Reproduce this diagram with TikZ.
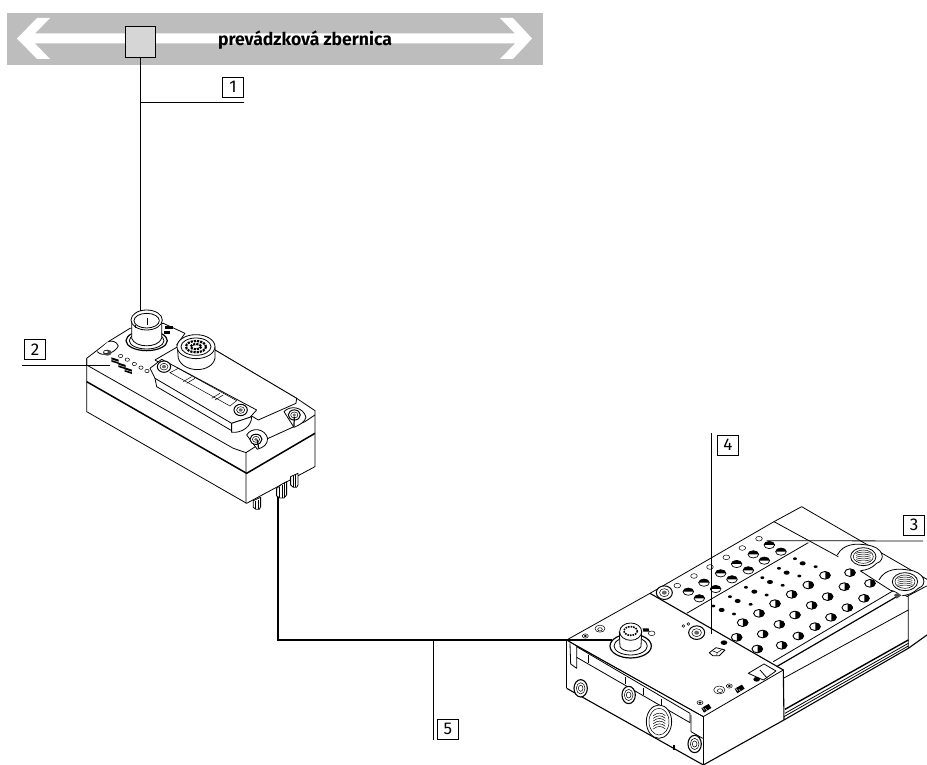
\documentclass[tikz,border=0pt]{standalone}
\usepackage{fontspec}
\setmainfont{Fira Sans}
\begin{document}
\begin{tikzpicture}[x=1pt,y=-1pt,
  num/.style={draw=black,line width=0.6pt,minimum width=21pt,minimum height=20pt,inner sep=0pt,font=\fontsize{17}{17}\selectfont},
  lead/.style={line width=0.8pt},
  dev/.style={line width=0.8pt,line join=round},
  thin3/.style={line width=0.5pt},
  heavy/.style={line width=1.5pt},
  zoomtwo/.style={shift={(20,270)},x=0.3333pt,y=-0.3333pt},
  zoomthree/.style={shift={(560,500)},x=0.3333pt,y=-0.3333pt}]
\newcommand{\halfhole}[3]{\draw[line width=0.7pt,fill=white] (#1,#2) circle[x radius=#3,y radius=0.68*#3];
  \fill[black] (#1-#3,#2) arc[start angle=180,end angle=360,x radius=#3,y radius=0.68*#3] -- cycle;}
\newcommand{\sidehole}[3]{\draw[line width=0.9pt,fill=white] (#1,#2) circle[x radius=#3,y radius=0.72*#3];
  \fill[black] (#1+1,#2+0.72*#3) arc[start angle=90,end angle=-90,x radius=#3,y radius=0.72*#3] -- cycle;}
\newcommand{\openhole}[3]{\draw[thin3,fill=white] (#1,#2) circle[x radius=#3,y radius=0.7*#3];}
\newcommand{\dothole}[3]{\fill[black] (#1,#2) circle[x radius=#3,y radius=0.7*#3];}
\newcommand{\screw}[3]{\draw[line width=1pt,fill=white] (#1,#2) circle[x radius=#3,y radius=0.85*#3];
  \draw[thin3] (#1,#2) circle[x radius=0.6*#3,y radius=0.5*#3];
  \fill[black!60] (#1,#2) circle[x radius=0.3*#3,y radius=0.25*#3];}
\newcommand{\glyphblock}[2]{\fill[black] (#1-11,#2-10) -- (#1+11,#2-3) -- (#1+11,#2+10) -- (#1-11,#2+3) -- cycle;
  \draw[white,line width=0.4pt] (#1-11,#2-3) -- (#1+11,#2+4);}
\useasboundingbox (0,0) rectangle (927,765);
\fill[white] (0,0) rectangle (927,765);
% bus
\fill[black!26] (7,13) rectangle (543,65);
\fill[white] (17,38.5) -- (37,18) -- (50,18) -- (35,33.5) -- (515,33.5) -- (500,18) -- (513,18) -- (532,38.5) -- (513,59) -- (500,59) -- (515,43.5) -- (35,43.5) -- (50,59) -- (37,59) -- cycle;
\node[draw=black,line width=0.9pt,fill=black!16,minimum width=30pt,minimum height=31pt,inner sep=0pt] (sq) at (140.5,42) {};
\node[font=\fontsize{17.6}{18}\bfseries\selectfont,inner sep=0pt] (bus) at (305,40) {prevádzková zbernica};
% labels
\node[num] (n1) at (233,87) {1};
\node[num] (n2) at (35,349.5) {2};
\node[num] (n3) at (914,525) {3};
\node[num] (n4) at (728,445) {4};
\node[num] (n5) at (448,729) {5};
% left device
\begin{scope}[zoomtwo]
\draw[dev,fill=white] (200,265) -- (265,215) -- (330,175) -- (430,160) -- (495,190) -- (470,225) -- (585,240) -- (830,385) -- (885,422) -- (885,590) -- (680,700) -- (200,425) -- cycle;
\draw[dev] (200,265) -- (200,285) -- (640,535) -- (678,548) -- (678,700);
\draw[dev] (678,548) -- (745,505) -- (855,455) -- (885,435);
\draw[heavy] (200,335) -- (680,610) -- (885,490);
% left notch
\draw[dev,fill=white] (232,245) .. controls (245,262) and (285,250) .. (295,228) .. controls (290,212) and (272,212) .. (265,215);
\fill[black!70] (262,248) circle[x radius=13,y radius=9];
\draw[thin3,fill=white] (258,246) circle[x radius=7,y radius=5];
% plate
\draw[dev,fill=white] (405,270) -- (470,232) -- (585,240) -- (830,385) -- (828,400) -- (715,450) -- (695,438) -- cycle;
\draw[dev,fill=white] (390,295) -- (425,268) -- (710,420) -- (690,442) -- (635,460) -- (405,325) -- cycle;
\draw[dev] (405,325) -- (410,350) -- (635,482) -- (635,460);
\draw[dev,fill=white] (635,460) -- (635,487) .. controls (665,490) and (695,470) .. (695,440) -- (690,442) -- cycle;
\draw[thin3] (450,308) -- (475,295) -- (650,392) -- (630,408) -- cycle;
\foreach \a/\b in {490/335,500/340,575/385,585/390}{\draw[thin3] (\a,\b) -- (\a+25,\b-15);}
\screw{432}{290}{20}
\screw{662}{420}{20}
% screws right
\draw[dev,fill=white] (680,495) .. controls (695,470) and (735,475) .. (743,505) .. controls (743,525) and (730,532) .. (712,538) -- cycle;
\screw{708}{508}{18}
\draw[line width=1.2pt] (712,510) -- (716,535);
\draw[dev,fill=white] (792,425) .. controls (810,405) and (850,410) .. (858,442) .. controls (855,455) and (840,465) .. (822,472) -- cycle;
\screw{823}{435}{18}
\draw[line width=1.2pt] (823,440) -- (822,470);
% connector front
\draw[line width=1.2pt,fill=white] (380,212) circle[x radius=62,y radius=30];
\draw[dev,fill=white] (380,212) circle[x radius=52,y radius=25];
\draw[dev,fill=white] (335,150) -- (335,205) .. controls (345,235) and (415,235) .. (425,205) -- (425,150) -- cycle;
\draw[dev,fill=white] (380,150) circle[x radius=47,y radius=30];
\draw[dev] (380,152) circle[x radius=38,y radius=22];
\draw[dev] (381,145) -- (381,165);
\draw[dev] (345,165) -- (345,175);
% small mark behind connector
\fill[black] (436,168) rectangle (458,176);
\fill[black] (432,184) rectangle (450,192);
% connector back
\draw[dev,fill=white] (472,230) -- (475,265) .. controls (490,310) and (575,310) .. (585,265) -- (585,230) -- cycle;
\draw[dev,fill=white] (528,230) circle[x radius=57,y radius=36];
\draw[dev] (528,230) circle[x radius=45,y radius=26];
\draw[line width=2.2pt,densely dotted] (528,230) circle[x radius=30,y radius=17];
\draw[line width=2.2pt,densely dotted] (528,230) circle[x radius=16,y radius=8];
% leds
\foreach \a/\b in {302/258,322/269,343/282,363/293,381/303}{\draw[thin3,fill=white] (\a,\b) circle[x radius=6.5,y radius=5];}
\glyphblock{285}{272}\glyphblock{306}{288}\glyphblock{325}{302}
% pins
\draw[dev,fill=white] (700,692) -- (700,712) -- (708,718) -- (718,718) -- (722,710) -- (722,682) -- cycle;
\draw[thin3] (707,692) -- (707,716) (714,690) -- (714,717);
\draw[dev,fill=white] (770,655) -- (770,678) -- (780,684) -- (792,684) -- (800,675) -- (800,635) -- (785,643) -- cycle;
\draw[thin3] (778,650) -- (778,682) (787,645) -- (787,684) (794,640) -- (794,680);
\draw[dev,fill=white] (812,620) -- (812,645) -- (820,652) -- (830,652) -- (834,645) -- (834,610) -- cycle;
\draw[thin3] (819,618) -- (819,650) (826,615) -- (826,652);
\coordinate (cabletop) at (775,682);
\end{scope}
% right device
\begin{scope}[zoomthree]
\draw[dev] (20,420) -- (270,280) -- (642,65) -- (725,20) -- (1101,238);
\draw[dev] (20,420) -- (20,565);
\draw[line width=1.1pt] (20,565) -- (430,795) -- (672,660) -- (1045,445) -- (1101,405);
\draw[dev] (642,65) -- (835,170) (900,212) -- (990,270) -- (1045,290) -- (1045,445);
\draw[dev] (1100,258) -- (1040,290);
\draw[line width=1.1pt] (270,280) -- (670,510) -- (672,660);
\draw[dev] (20,420) -- (430,650) -- (670,510);
\draw[dev] (430,650) -- (430,795);
\draw[dev] (640,485) -- (1000,272);
\draw[dev] (380,340) -- (745,128);
\draw[line width=1.2pt] (650,500) -- (1010,290);
\draw[dev] (670,535) -- (1045,330);
\draw[line width=1.4pt] (675,628) -- (1045,420);
\draw[dev] (675,640) -- (1045,430);
\draw[dev] (672,650) -- (1045,438);
\fill[black!70] (1002,285) -- (1018,275) -- (1026,285) -- (1010,296) -- cycle;
% threaded ports
\foreach \a/\b/\w in {910/170/1,1035/245/1}{
 \draw[dev,fill=white] (\a-78,\b-5) .. controls (\a-60,\b-40) and (\a-20,\b-40) .. (\a+10,\b-35) .. controls (\a+60,\b-30) and (\a+70,\b+10) .. (\a+40,\b+20) .. controls (\a+25,\b+35) and (\a+10,\b+40) .. (\a-8,\b+42);
 \draw[dev,fill=white] (\a,\b) circle[x radius=38,y radius=27];
 \draw[thin3] (\a,\b) circle[x radius=30,y radius=20];
 \foreach \k in {-10,-4,2,8,14}{\draw[thin3] (\a-22,\b+\k) .. controls (\a-8,\b+\k-5) and (\a+8,\b+\k-5) .. (\a+22,\b+\k);}
}
% holes
\foreach \a/\b in {597/116,547/144,499/172,450/201,402/228,352/257}{\openhole{\a}{\b}{10}}
\foreach \a/\b in {628/135,580/163,530/192,482/220,432/248,385/275,663/155,613/182,565/211,516/238,467/267,418/295}{\halfhole{\a}{\b}{16}}
\foreach \a/\b in {870/218,795/226,745/255,853/260,930/250,695/283,803/290,912/295,645/311,755/316,862/323,597/340,705/345,813/352,548/368,658/373,765/380,530/412,608/402,715/408,592/447,665/436}{\sidehole{\a}{\b}{16}}
\foreach \a/\b in {705/176,767/200,657/205,718/228,607/233,668/256,558/262,620/285,510/290,572/313,460/318,522/342}{\dothole{\a}{\b}{6}}
\foreach \a/\b in {728/190,680/218,630/246,583/275,533/303,485/330}{\dothole{\a}{\b}{9}}
\screw{313}{278}{24}
\screw{410}{398}{24}
\draw[thin3] (370,378) circle[radius=4] (385,372) circle[radius=4];
\draw[dev,fill=white] (448,458) -- (468,443) -- (495,450) -- (478,467) -- (458,467) -- cycle;
\draw[thin3] (458,453) -- (472,458) -- (488,447) (472,458) -- (470,466);
\dothole{492}{428}{10}
% socket right
\draw[dev,fill=white] (565,520) -- (612,492) -- (648,513) -- (610,540) -- cycle;
\draw[dev] (600,510) -- (622,535);
\dothole{590}{538}{10}
\openhole{478}{570}{17}
\openhole{480}{572}{8}
\openhole{508}{558}{9}
\dothole{508}{558}{5}
\openhole{420}{608}{9}
\dothole{420}{608}{5}
\foreach \a/\b in {538/568,438/626}{\fill[black] (\a-14,\b-2) -- (\a+8,\b-14) -- (\a+16,\b-2) -- (\a-6,\b+12) -- cycle; \foreach \k in {-6,6}{\draw[white,line width=0.4pt] (\a-8+\k,\b+\k*0.5-4) -- (\a+2+\k,\b+\k*0.5+8);}}
% top connector
\openhole{120}{386}{15}
\openhole{120}{388}{7}
\openhole{76}{408}{9}
\dothole{76}{408}{5}
\openhole{275}{400}{10}
\draw[line width=1.2pt,fill=white] (212,438) circle[x radius=62,y radius=36];
\draw[dev] (212,438) circle[x radius=50,y radius=27];
\draw[dev,fill=white] (178,395) -- (180,440) .. controls (190,458) and (232,458) .. (243,440) -- (245,395) -- cycle;
\draw[dev,fill=white] (212,395) circle[x radius=33,y radius=26];
\draw[line width=1.6pt,densely dotted] (212,393) circle[x radius=20,y radius=13];
\fill[black] (248,385) -- (266,385) -- (268,395) -- (250,395) -- cycle;
% front face
\draw[dev] (20,420) -- (50,438) -- (50,505) -- (32,492) -- (30,430);
\draw[dev] (50,440) -- (390,640) -- (390,668) -- (50,472);
\draw[dev] (50,438) -- (430,650);
\draw[dev] (85,465) -- (85,490);
\draw[dev] (195,530) -- (195,552);
\draw[dev] (250,565) -- (250,585);
\draw[dev] (305,598) -- (305,618);
\draw[dev] (393,645) -- (393,695) -- (428,715);
% front screws
\foreach \a/\b in {62/565,206/585,404/732}{
 \draw[line width=1.1pt,fill=white] (\a,\b) circle[x radius=20,y radius=26];
 \draw[thin3] (\a,\b) circle[x radius=13,y radius=17];
 \draw[thin3] (\a,\b) circle[x radius=7,y radius=9];
}
% port
\draw[dev,fill=white] (297,665) circle[x radius=38,y radius=50];
\draw[thin3] (297,665) circle[x radius=30,y radius=40];
\foreach \k in {-18,-10,-2,6,14,22}{\draw[thin3] (280,665+\k) .. controls (292,665+\k-10) and (305,665+\k-10) .. (316,665+\k);}
\fill[black] (338,735) rectangle (346,750);
\coordinate (cableend) at (155,420);
\coordinate (lead4end) at (450,403);
\coordinate (lead3end) at (620,122);
\end{scope}
% cable
\coordinate (cablebend) at (cabletop |- cableend);
\draw[line width=2pt] (cabletop) -- (cablebend) -- (cableend);
% leaders
\coordinate (lead1mid) at (sq.south |- 0,102);
\coordinate (lead1bot) at (sq.south |- 0,311);
\draw[lead] (sq.south) -- (lead1bot);
\draw[lead] (lead1mid) -- (n1.south east |- lead1mid);
\coordinate (lead2end) at (110,365);
\coordinate (lead2start) at (22,365);
\draw[lead] (lead2start) -- (lead2end);
\draw[lead] (923,541) -- (lead3end);
\coordinate (lead4top) at (711,433);
\draw[lead] (lead4top) -- (lead4end -| lead4top);
\coordinate (lead5a) at (433,640);
\coordinate (lead5b) at (433,740);
\draw[lead] (lead5a) -- (lead5b);
\end{tikzpicture}
\end{document}
